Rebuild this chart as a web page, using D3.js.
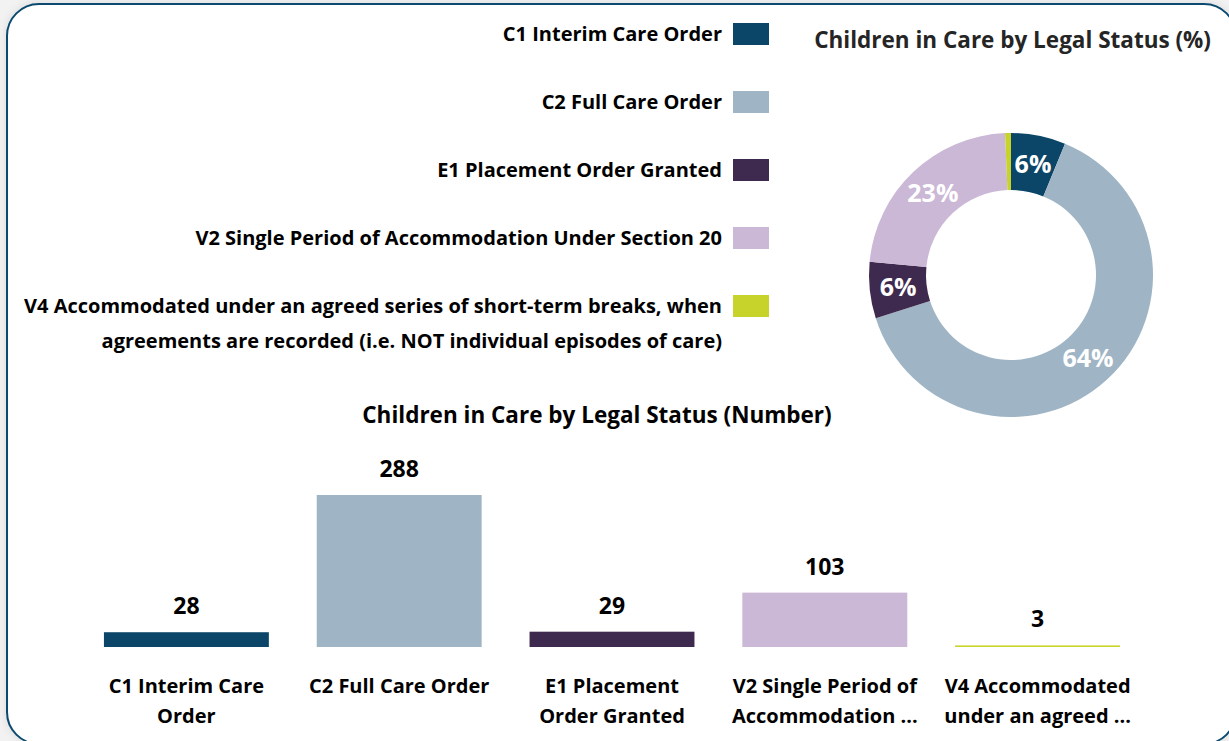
<!DOCTYPE html>
<html>
<head>
<meta charset="utf-8">
<script src="https://cdn.jsdelivr.net/npm/d3@7"></script>
<style>
  body { margin: 0; background: #f2f2f2; font-family: "Open Sans", "Noto Sans", sans-serif; }
  svg { display: block; }
  text { font-weight: 700; }
</style>
</head>
<body>
<script>
const categories = ['C1', 'C2', 'E1', 'V2', 'V4']
const counts = [28, 288, 29, 103, 3]
const colors = ['#0b4668', '#9fb5c5', '#3f2a4f', '#cbb7d6', '#c7d22a']
const legendLabels = [
  ['C1 Interim Care Order'],
  ['C2 Full Care Order'],
  ['E1 Placement Order Granted'],
  ['V2 Single Period of Accommodation Under Section 20'],
  ['V4 Accommodated under an agreed series of short-term breaks, when', 'agreements are recorded (i.e. NOT individual episodes of care)']
]
const tickLabels = [
  ['C1 Interim Care', 'Order'],
  ['C2 Full Care Order'],
  ['E1 Placement', 'Order Granted'],
  ['V2 Single Period of', 'Accommodation ...'],
  ['V4 Accommodated', 'under an agreed ...']
]

const w = 1229
const h = 741

const svg = d3.select('body')
  .append('svg')
  .attr('width', w)
  .attr('height', h)

const defs = svg.append('defs')
const shadow = defs.append('filter').attr('id', 'shadow')
  .attr('x', '-5%').attr('y', '-5%').attr('width', '110%').attr('height', '110%')
shadow.append('feDropShadow')
  .attr('dx', 0).attr('dy', 0).attr('stdDeviation', 4)
  .attr('flood-color', '#000').attr('flood-opacity', 0.1)

// card
svg.append('rect')
  .attr('x', 7).attr('y', 4)
  .attr('width', 1229).attr('height', 740)
  .attr('rx', 32)
  .attr('fill', '#fff')
  .attr('stroke', '#0b4a6e')
  .attr('stroke-width', 2)
  .attr('filter', 'url(#shadow)')

// legend
const legend = svg.append('g').attr('class', 'legend')
const legendY = d3.scalePoint().domain(categories).range([34, 306])

categories.forEach((c, i) => {
  const g = legend.append('g').attr('transform', `translate(0, ${legendY(c)})`)
  g.append('rect')
    .attr('x', 733).attr('y', -11)
    .attr('width', 36).attr('height', 22)
    .attr('fill', colors[i])
  legendLabels[i].forEach((line, j) => {
    g.append('text')
      .attr('x', 722).attr('y', 7 + j * 35)
      .attr('text-anchor', 'end')
      .style('font-size', '20px')
      .attr('fill', '#000')
      .text(line)
  })
})

// donut
const total = d3.sum(counts)
const cx = 1011, cy = 275
const outerR = 142, innerR = 85

svg.append('text')
  .attr('x', 1211).attr('y', 48)
  .attr('text-anchor', 'end')
  .style('font-size', '22.5px')
  .attr('fill', '#252525')
  .text('Children in Care by Legal Status (%)')

const pie = d3.pie().sort(null).value(d => d)
const arc = d3.arc().innerRadius(innerR).outerRadius(outerR)
const arcs = pie(counts)

const donut = svg.append('g').attr('transform', `translate(${cx}, ${cy})`)
donut.selectAll('path')
  .data(arcs)
  .enter()
  .append('path')
  .attr('d', arc)
  .attr('fill', (d, i) => colors[i])

donut.selectAll('text')
  .data(arcs.filter(d => d.value / total > 0.02))
  .enter()
  .append('text')
  .attr('transform', d => `translate(${arc.centroid(d)})`)
  .attr('text-anchor', 'middle')
  .attr('dy', '0.36em')
  .style('font-size', '25px')
  .attr('fill', '#fff')
  .text(d => Math.round(d.value / total * 100) + '%')

// bar chart
svg.append('text')
  .attr('x', 597).attr('y', 423)
  .attr('text-anchor', 'middle')
  .style('font-size', '22.5px')
  .attr('fill', '#000')
  .text('Children in Care by Legal Status (Number)')

const xScale = d3.scaleBand()
  .domain(categories)
  .range([80, 1144])
  .paddingInner(0.225)
  .paddingOuter(0.1125)

const yScale = d3.scaleLinear()
  .domain([0, 288])
  .range([647, 495])

const bars = svg.append('g').attr('class', 'bars')
bars.selectAll('rect')
  .data(counts)
  .enter()
  .append('rect')
  .attr('x', (d, i) => xScale(categories[i]))
  .attr('y', d => yScale(d))
  .attr('width', xScale.bandwidth())
  .attr('height', d => yScale(0) - yScale(d))
  .attr('fill', (d, i) => colors[i])

bars.selectAll('text.value')
  .data(counts)
  .enter()
  .append('text')
  .attr('class', 'value')
  .attr('x', (d, i) => xScale(categories[i]) + xScale.bandwidth() / 2)
  .attr('y', d => yScale(d) - 18)
  .attr('text-anchor', 'middle')
  .style('font-size', '23px')
  .attr('fill', '#000')
  .text(d => d)

const xAxis = d3.axisBottom(xScale).tickSize(0).tickFormat('')
const axisG = svg.append('g')
  .attr('transform', `translate(0, ${yScale(0)})`)
  .call(xAxis)
axisG.select('.domain').remove()

axisG.selectAll('.tick').each(function (c, i) {
  const t = d3.select(this)
  t.select('text').remove()
  tickLabels[i].forEach((line, j) => {
    t.append('text')
      .attr('x', 0).attr('y', 46 + j * 30)
      .attr('text-anchor', 'middle')
      .style('font-size', '20px')
      .style('font-family', '"Open Sans", "Noto Sans", sans-serif')
      .attr('fill', '#000')
      .text(line)
  })
})
</script>
</body>
</html>
